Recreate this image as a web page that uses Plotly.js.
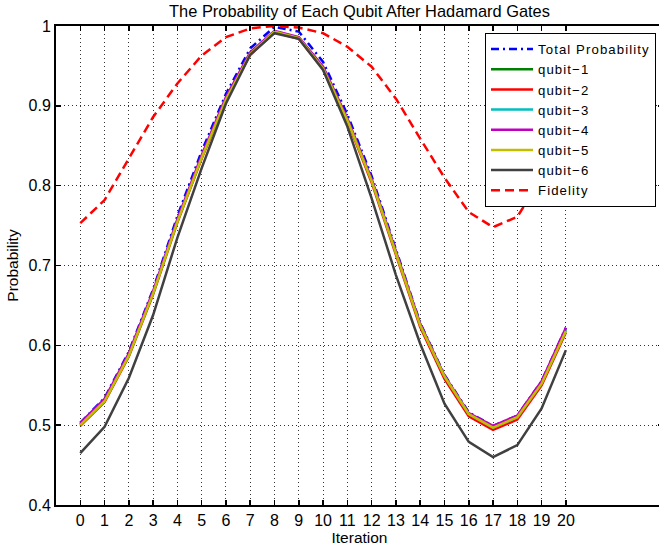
<!DOCTYPE html>
<html>
<head>
<meta charset="utf-8">
<script src="https://cdn.plot.ly/plotly-3.0.1.min.js"></script>
<style>
html, body { margin: 0; padding: 0; overflow: hidden; background: #fff; }
#chart { width: 668px; height: 551px; }
.legendtext { letter-spacing: 1.1px; }
</style>
</head>
<body>
<div id="chart"></div>
<script>
const iterations = [0,1,2,3,4,5,6,7,8,9,10,11,12,13,14,15,16,17,18,19,20];
const xTickLabels = ['0','1','2','3','4','5','6','7','8','9','10','11','12','13','14','15','16','17','18','19','20'];
const yTickValues = [0.4,0.5,0.6,0.7,0.8,0.9,1];
const yTickLabels = ['0.4','0.5','0.6','0.7','0.8','0.9','1'];

const totalProbability = [0.503,0.534,0.592,0.670,0.762,0.843,0.915,0.972,0.999,0.993,0.955,0.889,0.812,0.720,0.628,0.563,0.516,0.499,0.512,0.555,0.622];
const qubit1 = [0.501,0.531,0.588,0.666,0.756,0.836,0.909,0.966,0.993,0.985,0.948,0.883,0.807,0.717,0.626,0.561,0.514,0.497,0.510,0.553,0.619];
const qubit2 = [0.499,0.529,0.586,0.664,0.754,0.834,0.907,0.964,0.992,0.984,0.946,0.881,0.804,0.714,0.623,0.558,0.511,0.494,0.507,0.550,0.616];
const qubit3 = [0.501,0.531,0.588,0.666,0.756,0.836,0.909,0.966,0.993,0.985,0.948,0.883,0.807,0.717,0.626,0.561,0.514,0.497,0.510,0.553,0.619];
const qubit4 = [0.503,0.533,0.590,0.668,0.758,0.838,0.911,0.967,0.994,0.986,0.949,0.884,0.808,0.718,0.627,0.562,0.515,0.499,0.512,0.555,0.622];
const qubit5 = [0.500,0.530,0.587,0.665,0.755,0.835,0.908,0.965,0.993,0.985,0.947,0.882,0.806,0.716,0.625,0.561,0.514,0.497,0.510,0.552,0.618];
const qubit6 = [0.465,0.498,0.559,0.638,0.735,0.822,0.903,0.964,0.991,0.984,0.945,0.874,0.784,0.688,0.602,0.527,0.479,0.460,0.475,0.521,0.594];
const fidelity = [0.753,0.782,0.834,0.886,0.928,0.963,0.986,0.997,1.000,0.998,0.991,0.974,0.949,0.909,0.859,0.810,0.767,0.748,0.761,0.810,0.862];

const seriesNames = ['Total Probability','qubit\u22121','qubit\u22122','qubit\u22123','qubit\u22124','qubit\u22125','qubit\u22126','Fidelity'];
const seriesValues = [totalProbability, qubit1, qubit2, qubit3, qubit4, qubit5, qubit6, fidelity];
const seriesColors = ['#0000ff','#008000','#ff0000','#00bfbf','#bf00bf','#bfbf00','#404040','#ff0000'];
const seriesDash = ['8px,4px,2px,4px','solid','solid','solid','solid','solid','solid','9px,5px'];

const traces = seriesValues.map((vals, i) => ({
  x: iterations,
  y: vals,
  type: 'scatter',
  mode: 'lines',
  name: seriesNames[i],
  line: { color: seriesColors[i], width: 2.5, dash: seriesDash[i] }
}));

const fontFam = 'Liberation Sans, Arial, Helvetica, sans-serif';

const layout = {
  width: 668,
  height: 551,
  margin: { l: 56, r: 5, t: 26, b: 46 },
  paper_bgcolor: '#ffffff',
  plot_bgcolor: '#ffffff',
  font: { family: fontFam, size: 16, color: '#000' },
  title: {
    text: 'The Probability of Each Qubit After Hadamard Gates',
    font: { family: fontFam, size: 16.4, color: '#000' },
    x: 0.5, xref: 'paper', xanchor: 'center',
    y: 1 - 11/551, yref: 'container', yanchor: 'middle'
  },
  xaxis: {
    range: [-1, 24],
    tickmode: 'array',
    tickvals: iterations,
    ticktext: xTickLabels,
    ticks: 'inside', ticklen: 5, tickwidth: 1.5, tickcolor: '#000',
    showline: true, linecolor: '#000', linewidth: 2, mirror: 'ticks',
    showgrid: true, gridcolor: '#333', griddash: '1px,3px', gridwidth: 1,
    zeroline: false,
    tickfont: { family: fontFam, size: 16 },
    title: { text: 'Iteration', font: { family: fontFam, size: 15.5 }, standoff: 2 }
  },
  yaxis: {
    range: [0.4, 1],
    tickmode: 'array',
    tickvals: yTickValues,
    ticktext: yTickLabels,
    ticks: 'inside', ticklen: 5, tickwidth: 1.5, tickcolor: '#000',
    showline: true, linecolor: '#000', linewidth: 2, mirror: 'ticks',
    showgrid: true, gridcolor: '#333', griddash: '1px,3px', gridwidth: 1,
    zeroline: false,
    tickfont: { family: fontFam, size: 16 },
    title: { text: 'Probability', font: { family: fontFam, size: 15.5 }, standoff: 6 }
  },
  legend: {
    x: (656 - 56) / 607, xanchor: 'right',
    y: 1 - (33 - 26) / 479, yanchor: 'top',
    bgcolor: '#ffffff', bordercolor: '#000', borderwidth: 1,
    font: { family: fontFam, size: 13.2 },
    itemwidth: 42,
    tracegroupgap: 0
  },
  showlegend: true
};

Plotly.newPlot('chart', traces, layout, { displayModeBar: false, staticPlot: true });
</script>
</body>
</html>
